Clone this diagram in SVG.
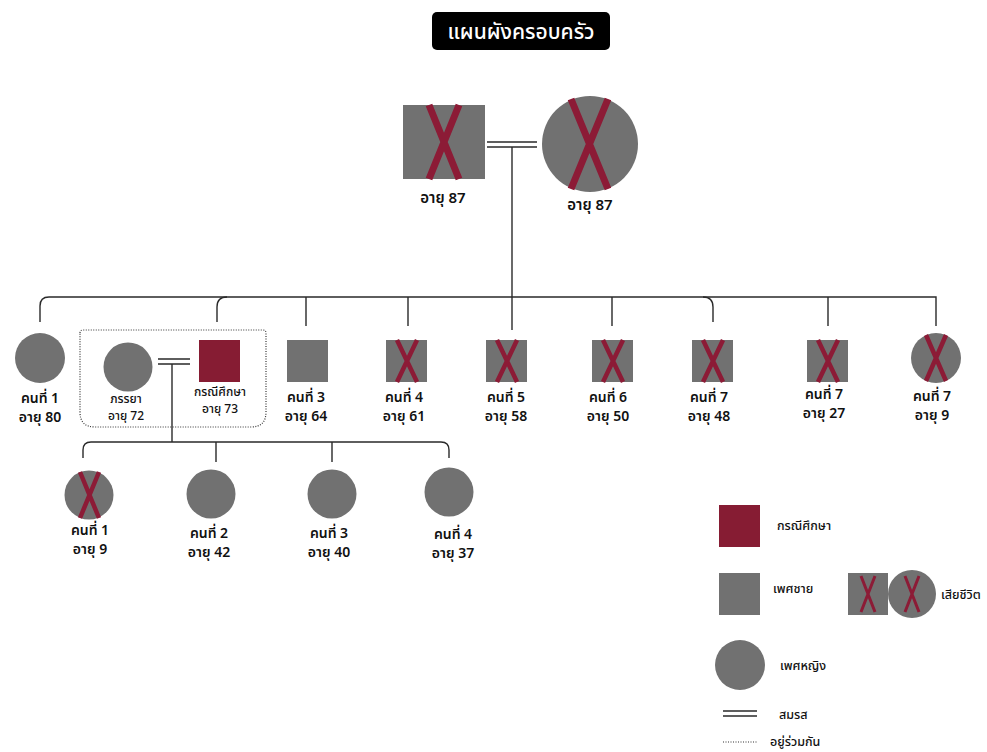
<svg xmlns="http://www.w3.org/2000/svg" width="987" height="752" viewBox="0 0 987 752">
<defs>
<style>
text{font-family:"Noto Sans Thai","Noto Sans","DejaVu Sans",sans-serif;fill:#111;}
.lbl{font-size:14px;font-weight:600;text-anchor:middle;}
.top{font-size:15px;font-weight:600;text-anchor:middle;}
.sm{font-size:12px;font-weight:500;text-anchor:middle;}
.leg{font-size:12.5px;font-weight:500;}
.title{font-size:21px;fill:#fff;text-anchor:middle;font-weight:500;}
.g{fill:#717171;}
.cs{fill:#861c33;}
.x{stroke:#8c1b36;stroke-width:4.5;fill:none;}
.xb{stroke:#8c1b36;stroke-width:7;fill:none;}
.ln{stroke:#2a2a2a;stroke-width:1.4;fill:none;}
.mar{stroke:#2a2a2a;stroke-width:1.4;fill:none;}
.dot{stroke:#333;stroke-width:1.2;stroke-dasharray:1 1.5;fill:none;}
</style>
</defs>
<rect width="987" height="752" fill="#fff"/>
<g id="title">
<rect x="432" y="12" width="178" height="38" rx="5" fill="#000"/>
<text class="title" x="521" y="39">แผนผังครอบครัว</text>
</g>
<g id="connectors">
<path class="mar" d="M487,142 H537 M487,147 H537"/>
<path class="ln" d="M512,147 V330"/>
<path class="ln" d="M40,322 V306 Q40,297 49,297 H936 V326"/>
<path class="ln" d="M217,322 V307 Q217,297 227,297"/>
<path class="ln" d="M703,297 Q713,297 713,307 V322"/>
<path class="ln" d="M306,297 V326 M408,297 V326 M612,297 V326 M828,297 V326"/>
<path class="dot" d="M80,333 Q80,330 83,330 H263 Q266,330 266,333 V412 Q266,427 251,427 H95 Q80,427 80,412 Z"/>
<path class="mar" d="M158,359 H190 M158,364 H190"/>
<path class="ln" d="M172,364 V442"/>
<path class="ln" d="M83,458 V450 Q83,442 91,442 H441 Q449,442 449,450 V458"/>
<path class="ln" d="M216,442 V462 M332,442 V462"/>
</g>
<g id="grandfather">
<rect class="g" x="403" y="105" width="82" height="74"/>
<path class="xb" d="M429,105 L459,179 M459,105 L429,179"/>
<text class="top" x="443" y="203">อายุ 87</text>
</g>
<g id="grandmother">
<circle class="g" cx="590" cy="144" r="48"/>
<path class="xb" d="M571,99 L608,189 M608,99 L571,189"/>
<text class="top" x="590" y="210">อายุ 87</text>
</g>
<g id="c1">
<circle class="g" cx="40" cy="358" r="25"/>
<text class="lbl" x="40" y="403">คนที่ 1<tspan x="40" dy="19.2">อายุ 80</tspan></text>
</g>
<g id="wife">
<circle class="g" cx="128" cy="367" r="24.5"/>
<text class="sm" x="126" y="403">ภรรยา<tspan x="126" dy="16.5">อายุ 72</tspan></text>
</g>
<g id="case">
<rect class="cs" x="199" y="340" width="41" height="42"/>
<text class="sm" x="220" y="396">กรณีศึกษา<tspan x="220" dy="16.5">อายุ 73</tspan></text>
</g>
<g id="c3">
<rect class="g" x="287" y="340" width="41" height="42"/>
<text class="lbl" x="306" y="402">คนที่ 3<tspan x="306" dy="19.2">อายุ 64</tspan></text>
</g>
<g id="c4">
<rect class="g" x="386" y="340" width="41" height="42"/>
<path class="x" d="M397,340 L417,382 M417,340 L397,382"/>
<text class="lbl" x="404" y="402">คนที่ 4<tspan x="404" dy="19.2">อายุ 61</tspan></text>
</g>
<g id="c5">
<rect class="g" x="486" y="340" width="41" height="42"/>
<path class="x" d="M497,340 L517,382 M517,340 L497,382"/>
<text class="lbl" x="506" y="402">คนที่ 5<tspan x="506" dy="19.2">อายุ 58</tspan></text>
</g>
<g id="c6">
<rect class="g" x="592" y="340" width="41" height="42"/>
<path class="x" d="M603,340 L623,382 M623,340 L603,382"/>
<text class="lbl" x="608" y="402">คนที่ 6<tspan x="608" dy="19.2">อายุ 50</tspan></text>
</g>
<g id="c7a">
<rect class="g" x="692" y="340" width="41" height="42"/>
<path class="x" d="M703,340 L723,382 M723,340 L703,382"/>
<text class="lbl" x="709" y="402">คนที่ 7<tspan x="709" dy="19.2">อายุ 48</tspan></text>
</g>
<g id="c7b">
<rect class="g" x="807" y="340" width="41" height="42"/>
<path class="x" d="M818,340 L838,382 M838,340 L818,382"/>
<text class="lbl" x="824" y="399">คนที่ 7<tspan x="824" dy="19.2">อายุ 27</tspan></text>
</g>
<g id="c7c">
<circle class="g" cx="936" cy="358" r="25"/>
<path class="x" d="M926,335 L946,381 M946,335 L926,381"/>
<text class="lbl" x="932" y="401">คนที่ 7<tspan x="932" dy="19.2">อายุ 9</tspan></text>
</g>
<g id="g1">
<circle class="g" cx="89" cy="495" r="24.5"/>
<path class="x" d="M80,472 L99,518 M99,472 L80,518"/>
<text class="lbl" x="90" y="535">คนที่ 1<tspan x="90" dy="19.2">อายุ 9</tspan></text>
</g>
<g id="g2">
<circle class="g" cx="211" cy="494" r="24.5"/>
<text class="lbl" x="209" y="538">คนที่ 2<tspan x="209" dy="19.2">อายุ 42</tspan></text>
</g>
<g id="g3">
<circle class="g" cx="332" cy="494" r="24.5"/>
<text class="lbl" x="329" y="538">คนที่ 3<tspan x="329" dy="19.2">อายุ 40</tspan></text>
</g>
<g id="g4">
<circle class="g" cx="449" cy="492" r="24.5"/>
<text class="lbl" x="453" y="539">คนที่ 4<tspan x="453" dy="19.2">อายุ 37</tspan></text>
</g>
<g id="legend">
<rect class="cs" x="719" y="505" width="41" height="42"/>
<text class="leg" x="777" y="530">กรณีศึกษา</text>
<rect class="g" x="719" y="573" width="41" height="42"/>
<text class="leg" x="773" y="593">เพศชาย</text>
<rect class="g" x="848" y="573" width="40" height="42"/>
<path class="x" d="M861,576 L875,612 M875,576 L861,612" style="stroke-width:3"/>
<circle class="g" cx="912" cy="594" r="24"/>
<path class="x" d="M905,576 L919,612 M919,576 L905,612" style="stroke-width:3"/>
<text class="leg" x="941" y="599">เสียชีวิต</text>
<circle class="g" cx="740" cy="665" r="25"/>
<text class="leg" x="780" y="670">เพศหญิง</text>
<path class="mar" d="M723,711 H757 M723,716 H757"/>
<text class="leg" x="779" y="719">สมรส</text>
<path class="dot" d="M723,742 H757"/>
<text class="leg" x="770" y="746">อยู่ร่วมกัน</text>
</g>
</svg>
